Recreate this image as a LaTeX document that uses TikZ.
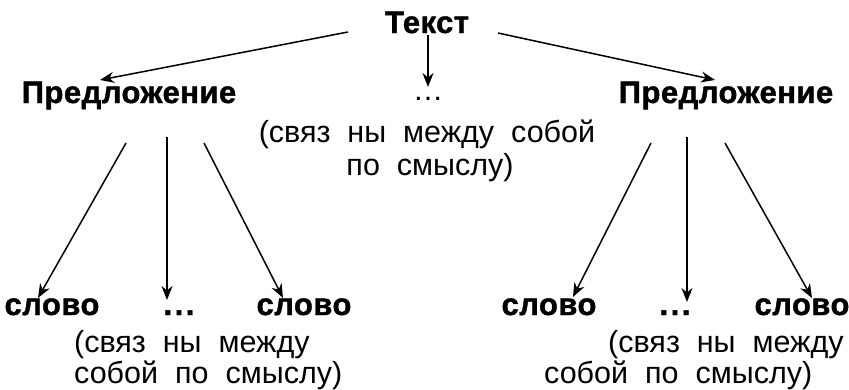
\documentclass[tikz,border=0pt]{standalone}
\usepackage{fontspec}
\setmainfont{Liberation Sans}
\newfontfamily\bfnt[LetterSpace=1.5,FakeBold=1.3]{Liberation Sans Bold}
\newfontfamily\rgfnt[WordSpace=2.0]{Liberation Sans}
\usetikzlibrary{arrows.meta,calc}
\tikzset{
  bw/.style={anchor=base,inner sep=0pt,font=\bfnt\fontsize{31}{34}\selectfont},
  rw/.style={anchor=base,inner sep=0pt,font=\rgfnt\fontsize{30.5}{34}\selectfont},
  rwl/.style={anchor=base west,inner sep=0pt,font=\rgfnt\fontsize{30.5}{34}\selectfont},
  arr/.style={line width=1.5pt,-{Stealth[length=14pt,width=11pt,inset=4.5pt]}}
}
\newcommand\bdots{.\hspace{2.5pt}.\hspace{2.5pt}.}
\begin{document}
\begin{tikzpicture}[x=1pt,y=-1pt]
\path[use as bounding box] (0,0) rectangle (849,389);
% top
\node[bw] (T) at (427,33) {Текст};
\node[bw] (PL) at (129,103) {Предложение};
\node[bw] (PR) at (726,103) {Предложение};
\node[rw] (D0) at (428,100) {…};
\node[rw] (C1) at (427,142) {(связ ны между собой};
\node[rw] (C2) at (430,175) {по смыслу)};
% bottom left
\node[bw] (W1) at (52,315) {слово};
\node[bw] (D1) at (179,315) {\bdots};
\node[bw] (W2) at (304,315) {слово};
\node[rwl] (L1) at (74,352) {(связ ны между};
\node[rwl] (L2) at (74,383) {собой по смыслу)};
% bottom right
\node[bw] (W3) at (549,315) {слово};
\node[bw] (D2) at (675,315) {\bdots};
\node[bw] (W4) at (802,315) {слово};
\node[rwl] (R1) at (608,352) {(связ ны между};
\node[rwl] (R2) at (544,383) {собой по смыслу)};
% arrows from Текст
\draw[arr] ($(T.base)+(-79,-1)$) -- ($(PL.base)+(-29,-23)$);
\draw[arr] ($(T.base)+(71,0)$) -- ($(PR.base)+(-11,-23)$);
\draw[arr] ($(T.base)+(1,2)$) -- ($(D0.base)+(0,-13)$);
% left sentence
\draw[arr] ($(PL.base)+(-3,40)$) -- ($(W1.base)+(-14,-17)$);
\draw[arr] ($(PL.base)+(38,34)$) -- ($(D1.base)+(-12,-15)$);
\draw[arr] ($(PL.base)+(75,40)$) -- ($(W2.base)+(-21,-17)$);
% right sentence
\draw[arr] ($(PR.base)+(-75,40)$) -- ($(W3.base)+(24,-18)$);
\draw[arr] ($(PR.base)+(-39,34)$) -- ($(D2.base)+(12,-13)$);
\draw[arr] ($(PR.base)+(-1,40)$) -- ($(W4.base)+(10,-17)$);
\end{tikzpicture}
\end{document}
